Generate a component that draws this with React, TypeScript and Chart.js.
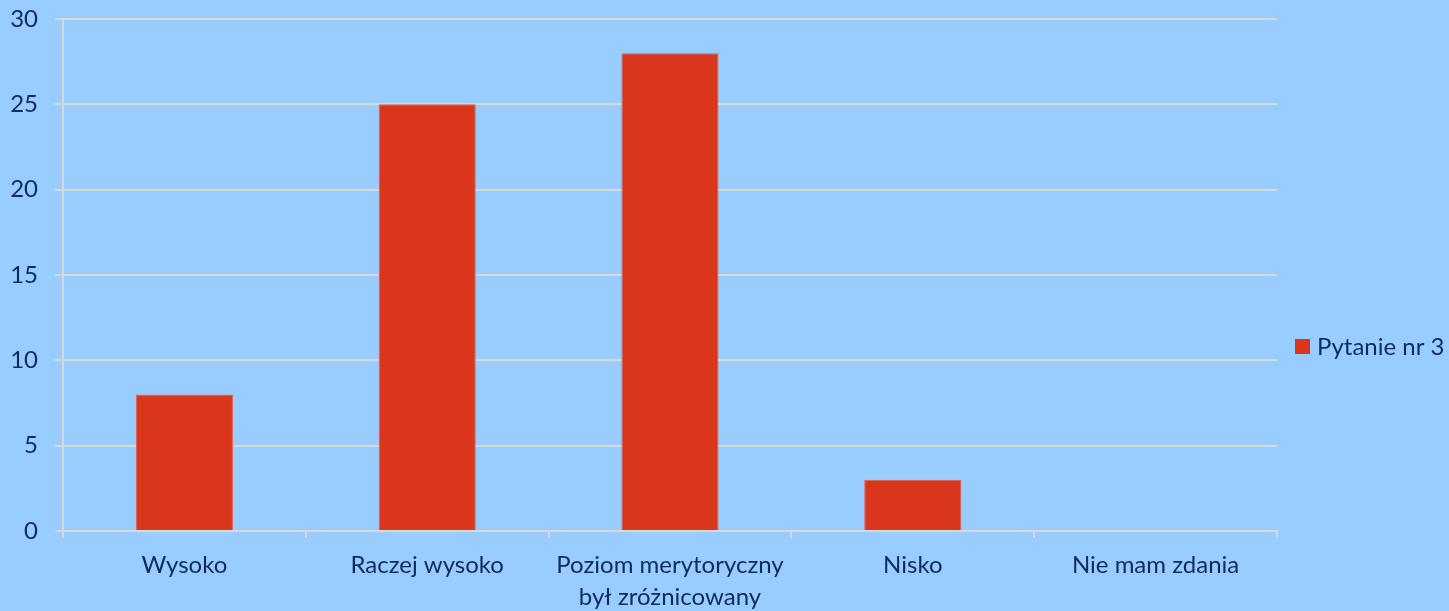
import React, { useEffect, useRef } from "react";
import { Chart, registerables } from "chart.js";

Chart.register(...registerables);

const categories: (string | string[])[] = [
  "Wysoko",
  "Raczej wysoko",
  ["Poziom merytoryczny", "był zróżnicowany"],
  "Nisko",
  "Nie mam zdania",
];
const seriesName = "Pytanie nr 3";
const values = [8, 25, 28, 3, 0];
const yMin = 0;
const yMax = 30;
const yStep = 5;

const BG = "#99CCFF";
const BAR = "#D9361B";
const TEXT = "#0F2A5C";
const GRID = "#D9D9D9";
const FONT = "Lato, 'Open Sans', sans-serif";

const legendPlugin = {
  id: "sideLegend",
  afterDraw(chart: any) {
    const ctx = chart.ctx;
    const area = chart.chartArea;
    const x = area.right + 18;
    const yc = 347;
    chart.data.datasets.forEach((ds: any) => {
      ctx.save();
      ctx.fillStyle = ds.backgroundColor;
      ctx.fillRect(x, yc - 8, 15, 15);
      ctx.fillStyle = TEXT;
      ctx.font = `24px ${FONT}`;
      ctx.textBaseline = "middle";
      ctx.textAlign = "left";
      ctx.fillText(ds.label, x + 22, yc);
      ctx.restore();
    });
  },
};

const bgPlugin = {
  id: "bg",
  beforeDraw(chart: any) {
    const ctx = chart.ctx;
    ctx.save();
    ctx.fillStyle = BG;
    ctx.fillRect(0, 0, chart.width, chart.height);
    ctx.restore();
  },
};

export default function App() {
  const ref = useRef<HTMLCanvasElement>(null);
  useEffect(() => {
    if (!ref.current) return;
    const chart = new Chart(ref.current, {
      type: "bar",
      data: {
        labels: categories,
        datasets: [
          {
            label: seriesName,
            data: values,
            backgroundColor: BAR,
            borderColor: "#E2604A",
            borderWidth: 1,
            barPercentage: 0.4,
            categoryPercentage: 1,
          },
        ],
      },
      options: {
        animation: false,
        responsive: false,
        maintainAspectRatio: false,
        layout: { padding: { top: 19, right: 172, left: 0, bottom: 0 } },
        plugins: {
          legend: { display: false },
          tooltip: { enabled: false },
        },
        scales: {
          x: {
            grid: {
              drawOnChartArea: false,
              drawTicks: true,
              tickLength: 7,
              color: GRID,
              lineWidth: 2,
              offset: true,
            },
            border: { color: GRID, width: 2 },
            ticks: {
              color: TEXT,
              font: { family: FONT, size: 24, lineHeight: 1.35 },
              padding: 11,
              maxRotation: 0,
              autoSkip: false,
            },
            afterFit(scale: any) {
              scale.height = 80;
              scale.paddingLeft = 0;
              scale.paddingRight = 0;
            },
          },
          y: {
            min: yMin,
            max: yMax,
            grid: {
              color: GRID,
              lineWidth: 2,
              drawTicks: true,
              tickLength: 8,
            },
            border: { color: GRID, width: 2 },
            ticks: {
              stepSize: yStep,
              color: TEXT,
              font: { family: FONT, size: 24 },
              padding: 17,
            },
            afterFit(scale: any) {
              scale.width = 63;
              scale.paddingTop = 0;
              scale.paddingBottom = 0;
            },
          },
        },
      },
      plugins: [bgPlugin, legendPlugin],
    });
    return () => chart.destroy();
  }, []);
  return (
    <div style={{ position: "fixed", left: 0, top: 0, width: 1449, height: 611, background: BG }}>
      <canvas ref={ref} width={1449} height={611} style={{ display: "block" }} />
    </div>
  );
}
